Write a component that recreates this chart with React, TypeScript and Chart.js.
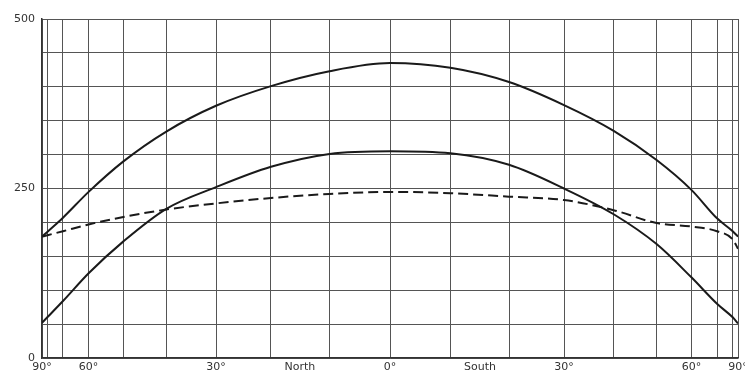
import React, { useEffect, useRef } from "react";
import { Chart, registerables } from "chart.js";

Chart.register(...registerables);

// Latitudes: negative = North, positive = South (x axis is linear in sin(latitude))
const latitudes = [-90, -80, -70, -60, -50, -40, -30, -20, -10, 0, 10, 20, 30, 40, 50, 60, 70, 80, 90];
const upperSeries = [179, 186, 207, 245, 290, 334, 372, 401, 423, 435, 428, 407, 373, 335, 292, 248, 206, 187, 179];
const middleSeries = [52, 60, 84, 125, 172, 220, 252, 282, 301, 305, 302, 285, 250, 212, 168, 119, 80, 60, 51];
const dashedSeries = [179, 181, 187, 197, 208, 219, 228, 236, 242, 245, 243, 238, 233, 218, 199, 194, 187, 175, 161];

const gridLats = [-90, -80, -70, -60, -50, -40, -30, -20, -15, -10, 0, 10, 15, 20, 30, 40, 50, 60, 70, 80, 90];
const xTickLabels: Record<string, string> = {
  "-90": "90°", "-60": "60°", "-30": "30°", "-15": "North", "0": "0°",
  "15": "South", "30": "30°", "60": "60°", "90": "90°",
};
const labelOnlyLats = [-15, 15];
const yTickLabels = [0, 250, 500];

const toX = (lat: number) => Math.sin((lat * Math.PI) / 180);

export default function App() {
  const ref = useRef<HTMLCanvasElement>(null);
  useEffect(() => {
    if (!ref.current) return;
    const mk = (vals: number[]) => latitudes.map((l, i) => ({ x: toX(l), y: vals[i] }));
    const lineBase = {
      borderColor: "#1a1a1a",
      borderWidth: 2,
      pointRadius: 0,
      cubicInterpolationMode: "monotone" as const,
      fill: false,
    };
    const chart = new Chart(ref.current, {
      type: "line",
      data: {
        datasets: [
          { ...lineBase, data: mk(upperSeries) },
          { ...lineBase, data: mk(middleSeries) },
          { ...lineBase, data: mk(dashedSeries), borderDash: [10, 5] },
        ],
      },
      options: {
        animation: false,
        responsive: true,
        maintainAspectRatio: false,
        layout: { autoPadding: false, padding: { top: 19, right: 7, left: 0, bottom: 0 } },
        plugins: { legend: { display: false }, tooltip: { enabled: false } },
        scales: {
          x: {
            type: "linear",
            min: -1,
            max: 1,
            afterBuildTicks: (scale: any) => {
              scale.ticks = gridLats.map((l) => ({ value: toX(l) }));
            },
            afterFit: (scale: any) => {
              scale.height = 18;
              scale.paddingLeft = 0;
              scale.paddingRight = 0;
            },
            ticks: {
              autoSkip: false,
              maxRotation: 0,
              padding: 3,
              color: "#333",
              font: { family: "DejaVu Sans", size: 11 },
              callback: (_v: any, i: number) => xTickLabels[String(gridLats[i])] ?? "",
            },
            grid: {
              drawTicks: false,
              lineWidth: 1,
              color: (ctx: any) =>
                labelOnlyLats.includes(gridLats[ctx.index]) ? "rgba(0,0,0,0)" : "#555",
            },
            border: { color: "#333", width: 1.5 },
          },
          y: {
            min: 0,
            max: 500,
            afterFit: (scale: any) => {
              scale.width = 42;
              scale.paddingTop = 0;
              scale.paddingBottom = 0;
            },
            ticks: {
              stepSize: 50,
              padding: 7,
              color: "#333",
              font: { family: "DejaVu Sans", size: 11 },
              callback: (v: any) => (yTickLabels.includes(Number(v)) ? String(v) : ""),
            },
            grid: { drawTicks: false, lineWidth: 1, color: "#555" },
            border: { color: "#333", width: 1.5 },
          },
        },
      },
    });
    return () => chart.destroy();
  }, []);
  return (
    <div style={{ position: "fixed", left: 0, top: 0, width: 745, height: 376, background: "#fff" }}>
      <canvas ref={ref} />
    </div>
  );
}
